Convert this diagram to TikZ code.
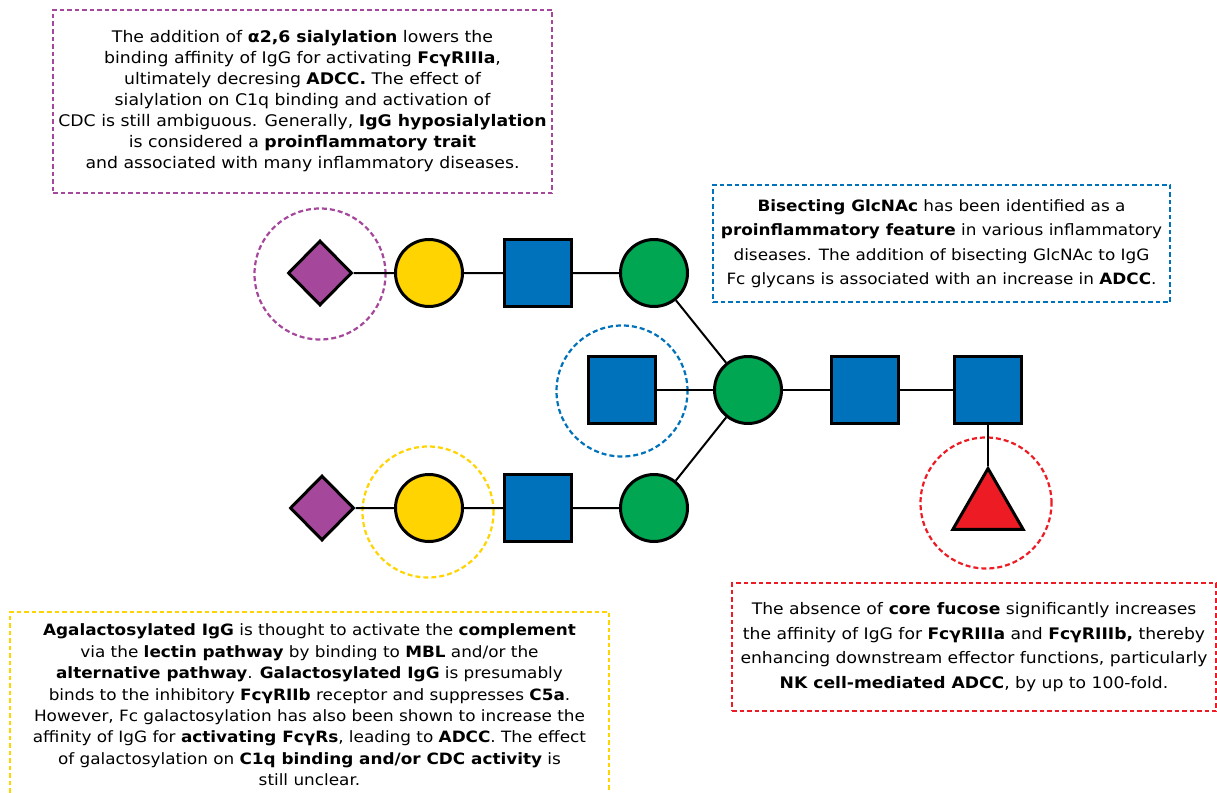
\documentclass[tikz,border=0pt]{standalone}
\usepackage{fontspec}
\setmainfont{DejaVu Sans}[FakeStretch=1.08]
\usetikzlibrary{shapes.geometric}

\definecolor{snfgblue}{HTML}{0072BC}
\definecolor{snfggreen}{HTML}{00A651}
\definecolor{snfgyellow}{HTML}{FFD400}
\definecolor{snfgred}{HTML}{ED1C24}
\definecolor{snfgpurple}{HTML}{A5479A}

\tikzset{
    sugar/.style={draw=black, line width=3pt, inner sep=0pt},
    mansym/.style={sugar, circle, fill=snfggreen, minimum size=67pt},
    galsym/.style={sugar, circle, fill=snfgyellow, minimum size=67pt},
    gnsym/.style={sugar, rectangle, fill=snfgblue, minimum size=67pt},
    siasym/.style={sugar, diamond, fill=snfgpurple, minimum width=64pt, minimum height=65pt},
    fucsym/.style={sugar, regular polygon, regular polygon sides=3, fill=snfgred, minimum size=81pt},
    ring/.style={circle, draw=#1, line width=2.2pt, dash pattern=on 5pt off 3pt, minimum size=131pt, inner sep=0pt},
    infobox/.style={draw=#1, line width=2.4pt, dash pattern=on 4.5pt off 3pt, align=center, inner sep=0pt},
    link/.style={draw=black, line width=2pt}
}

\begin{document}
\begin{tikzpicture}[x=1pt, y=-1pt, font=\fontsize{15.6}{21.4}\selectfont]
    \useasboundingbox (0,0) rectangle (1217,792);

    \coordinate (S1) at (320, 273);
    \coordinate (A1) at (429, 273);
    \coordinate (N1) at (538, 273);
    \coordinate (M1) at (654, 273);

    \coordinate (S2) at (322, 508);
    \coordinate (A2) at (429, 508);
    \coordinate (N2) at (538, 508);
    \coordinate (M2) at (654, 508);

    \coordinate (NB) at (622, 390);
    \coordinate (MC) at (748, 390);
    \coordinate (N3) at (865, 390);
    \coordinate (N4) at (988, 390);
    \coordinate (FC) at (988, 509);

    % highlight rings
    \node[ring=snfgpurple] (ringsia) at (320, 274) {};
    \node[ring=snfgblue]   (ringbis) at (622, 391) {};
    \node[ring=snfgyellow] (ringgal) at (428, 512) {};
    \node[ring=snfgred]    (ringfuc) at (986, 503) {};

    \node[siasym] (sia1) at (S1) {};
    \node[galsym] (gal1) at (A1) {};
    \node[gnsym]  (gn1)  at (N1) {};
    \node[mansym] (man1) at (M1) {};

    \node[siasym] (sia2) at (S2) {};
    \node[galsym] (gal2) at (A2) {};
    \node[gnsym]  (gn2)  at (N2) {};
    \node[mansym] (man2) at (M2) {};

    \node[gnsym]  (gnbis)  at (NB) {};
    \node[mansym] (mancore) at (MC) {};
    \node[gnsym]  (gn3)  at (N3) {};
    \node[gnsym]  (gn4)  at (N4) {};
    \node[fucsym] (fuc)  at (FC) {};

    \draw[link] (sia1) -- (gal1) -- (gn1) -- (man1) -- (mancore);
    \draw[link] (sia2) -- (gal2) -- (gn2) -- (man2) -- (mancore);
    \draw[link] (gnbis) -- (mancore) -- (gn3) -- (gn4) -- (fuc);

    % text boxes
    \node[infobox=snfgpurple, minimum width=499pt, minimum height=183pt,
          font=\fontsize{16}{21}\selectfont] (sialbox) at (302.5, 101.5) {%
        The addition of \textbf{α2,6 sialylation} lowers the\\
        binding affinity of IgG for activating \textbf{FcγRIIIa},\\
        ultimately decresing \textbf{ADCC.} The effect of\\
        sialylation on C1q binding and activation of\\
        CDC is still ambiguous. Generally, \textbf{IgG hyposialylation}\\
        is considered a \textbf{proinflammatory trait}\\
        and associated with many inflammatory diseases.};

    \node[infobox=snfgblue, minimum width=457pt, minimum height=117pt,
          font=\fontsize{15.6}{24.5}\selectfont] (bisectbox) at (941.5, 243.5) {%
        \textbf{Bisecting GlcNAc} has been identified as a\\
        \textbf{proinflammatory feature} in various inflammatory\\
        diseases. The addition of bisecting GlcNAc to IgG\\
        Fc glycans is associated with an increase in \textbf{ADCC}.};

    \node[infobox=snfgyellow, minimum width=599pt, minimum height=186pt] (galbox) at (309.5, 705) {%
        \textbf{Agalactosylated IgG} is thought to activate the \textbf{complement}\\
        via the \textbf{lectin pathway} by binding to \textbf{MBL} and/or the\\
        \textbf{alternative pathway}. \textbf{Galactosylated IgG} is presumably\\
        binds to the inhibitory \textbf{FcγRIIb} receptor and suppresses \textbf{C5a}.\\
        However, Fc galactosylation has also been shown to increase the\\
        affinity of IgG for \textbf{activating FcγRs}, leading to \textbf{ADCC}. The effect\\
        of galactosylation on \textbf{C1q binding and/or CDC activity} is\\
        still unclear.};

    \node[infobox=snfgred, minimum width=484pt, minimum height=128pt,
          font=\fontsize{15.9}{24.5}\selectfont] (fucbox) at (974, 647) {%
        The absence of \textbf{core fucose} significantly increases\\
        the affinity of IgG for \textbf{FcγRIIIa} and \textbf{FcγRIIIb,} thereby\\
        enhancing downstream effector functions, particularly\\
        \textbf{NK cell-mediated ADCC}, by up to 100-fold.};

\end{tikzpicture}
\end{document}
